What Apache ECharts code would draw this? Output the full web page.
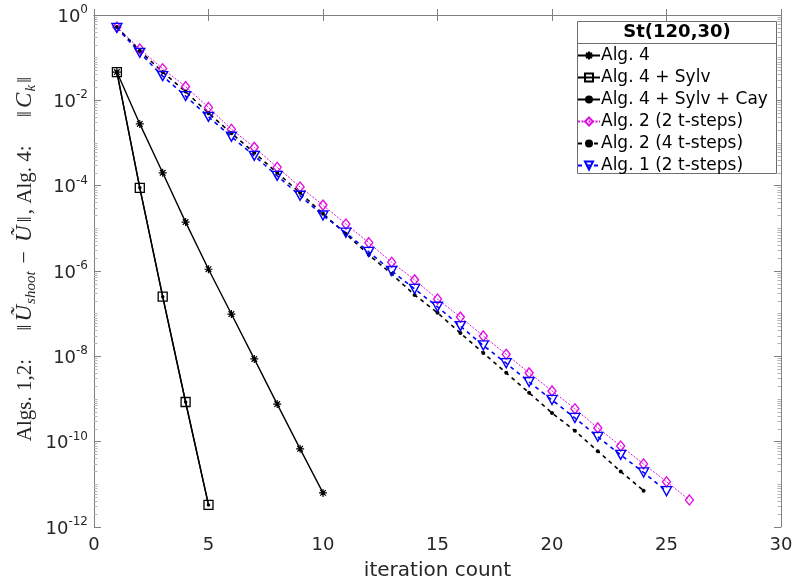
<!DOCTYPE html>
<html>
<head>
<meta charset="utf-8">
<script src="https://cdn.jsdelivr.net/npm/echarts@6/dist/echarts.min.js"></script>
<style>
  html, body { margin: 0; padding: 0; background: #fff; }
  #chart { width: 793px; height: 584px; }
</style>
</head>
<body>
<div id="chart"></div>
<script>
// iteration numbers (x)
const iters = [1, 2, 3, 4, 5, 6, 7, 8, 9, 10, 11, 12, 13, 14, 15, 16, 17, 18, 19, 20, 21, 22, 23, 24, 25, 26];

// residual norms
const alg4 = [4.6e-2, 2.8e-3, 2.0e-4, 1.4e-5, 1.1e-6, 9.8e-8, 8.7e-9, 7.6e-10, 6.8e-11, 6.3e-12];
const alg4Sylv = [4.6e-2, 8.9e-5, 2.5e-7, 8.5e-10, 3.3e-12];
const alg4SylvCay = [4.6e-2, 8.9e-5, 2.5e-7, 8.5e-10, 3.3e-12];
const alg2Two = [0.52, 0.16, 5.5e-2, 2.1e-2, 6.8e-3, 2.1e-3, 7.9e-4, 2.7e-4, 9.3e-5, 3.5e-5,
  1.26e-5, 4.6e-6, 1.6e-6, 6.2e-7, 2.2e-7, 8.3e-8, 3.0e-8, 1.12e-8, 4.1e-9, 1.55e-9,
  5.9e-10, 2.1e-10, 7.9e-11, 3.0e-11, 1.15e-11, 4.3e-12];
const alg2Four = [0.52, 0.145, 4.6e-2, 1.6e-2, 5.0e-3, 1.7e-3, 5.9e-4, 2.0e-4, 6.8e-5, 2.2e-5,
  7.4e-6, 2.4e-6, 8.5e-7, 2.75e-7, 1.05e-7, 3.5e-8, 1.2e-8, 4.1e-9, 1.4e-9, 4.7e-10,
  1.8e-10, 6.0e-11, 2.0e-11, 7.1e-12];
const alg1Two = [0.50, 0.13, 3.7e-2, 1.26e-2, 4.1e-3, 1.4e-3, 5.0e-4, 1.7e-4, 5.8e-5, 2.0e-5,
  7.9e-6, 2.8e-6, 1.0e-6, 3.8e-7, 1.45e-7, 5.1e-8, 1.8e-8, 6.9e-9, 2.5e-9, 9.5e-10,
  3.6e-10, 1.3e-10, 4.9e-11, 1.9e-11, 6.9e-12];

const seriesNames = ['Alg. 4', 'Alg. 4 + Sylv', 'Alg. 4 + Sylv + Cay',
  'Alg. 2 (2 t-steps)', 'Alg. 2 (4 t-steps)', 'Alg. 1 (2 t-steps)'];

// y axis: exponent ticks
const yMinor = [];
for (let n = -12; n < 0; n++) {
  if (n % 2 !== 0) yMinor.push(n);
  for (let k = 2; k <= 9; k++) yMinor.push(n + Math.log10(k));
}

const toPts = (vals) => vals.map((v, i) => [iters[i], Math.log10(v)]);

const AXIS = '#808080';
const TXT = '#262626';
const MAG = '#e010e0';
const BLUE = '#0000ff';
const ASTER = 'path://M5,0L5,10M0,5L10,5M1.5,1.5L8.5,8.5M1.5,8.5L8.5,1.5';

const chart = echarts.init(document.getElementById('chart'), null, { renderer: 'canvas' });

const yBase = {
  type: 'value', min: -12, max: 0, interval: 2,
  splitLine: { show: false },
  axisLine: { show: true, lineStyle: { color: AXIS, width: 1 } }
};

const serif = 'Liberation Serif';

chart.setOption({
  animation: false,
  backgroundColor: '#fff',
  textStyle: { fontFamily: 'DejaVu Sans' },
  grid: { left: 94, right: 12, top: 15, bottom: 57, containLabel: false, outerBoundsMode: 'none' },
  xAxis: [{
    type: 'value', min: 0, max: 30, interval: 5,
    name: 'iteration count', nameLocation: 'middle', nameGap: 34,
    nameTextStyle: { fontSize: 20, color: TXT, fontFamily: 'DejaVu Sans' },
    axisLine: { lineStyle: { color: AXIS } },
    axisTick: { inside: true, length: 6, lineStyle: { color: AXIS } },
    axisLabel: { fontSize: 18, color: TXT, margin: 9, fontFamily: 'DejaVu Sans' },
    splitLine: { show: false }
  }, {
    type: 'value', min: 0, max: 30, interval: 5, position: 'top',
    axisLine: { lineStyle: { color: AXIS } },
    axisTick: { inside: true, length: 6, lineStyle: { color: AXIS } },
    axisLabel: { show: false },
    splitLine: { show: false }
  }],
  yAxis: [
    Object.assign({}, yBase, {
      position: 'left',
      axisTick: { inside: true, length: 7, lineStyle: { color: AXIS } },
      axisLabel: {
        margin: 6,
        formatter: (v) => '{b|10}{s|' + v + '}',
        rich: {
          b: { fontSize: 18, color: TXT, fontFamily: 'DejaVu Sans', lineHeight: 22, verticalAlign: 'bottom' },
          s: { fontSize: 12, color: TXT, fontFamily: 'DejaVu Sans', lineHeight: 12, verticalAlign: 'top' }
        }
      }
    }),
    Object.assign({}, yBase, {
      position: 'left', axisLine: { show: false },
      axisTick: { inside: true, length: 3.5, customValues: yMinor, lineStyle: { color: '#b4b4b4' } },
      axisLabel: { show: false }
    }),
    Object.assign({}, yBase, {
      position: 'right',
      axisTick: { inside: true, length: 7, lineStyle: { color: AXIS } },
      axisLabel: { show: false }
    }),
    Object.assign({}, yBase, {
      position: 'right', axisLine: { show: false },
      axisTick: { inside: true, length: 3.5, customValues: yMinor, lineStyle: { color: '#b4b4b4' } },
      axisLabel: { show: false }
    })
  ],
  legend: {
    orient: 'vertical', left: 577, top: 47, padding: 0,
    itemWidth: 22, itemHeight: 10, itemGap: 5,
    textStyle: { fontSize: 17, color: '#000', lineHeight: 16, fontFamily: 'DejaVu Sans', padding: [0, 0, 0, -4] },
    data: seriesNames
  },
  graphic: [
    { type: 'rect', z: 3, shape: { x: 577.5, y: 21.5, width: 199, height: 152 },
      style: { fill: '#fff', stroke: '#6e6e6e', lineWidth: 1 } },
    { type: 'line', z: 3, shape: { x1: 577.5, y1: 43.5, x2: 776.5, y2: 43.5 },
      style: { stroke: '#6e6e6e', lineWidth: 1 } },
    { type: 'text', z: 5, x: 677, y: 32,
      style: { text: 'St(120,30)', font: 'bold 18px "DejaVu Sans"', fill: '#000',
        textAlign: 'center', textVerticalAlign: 'middle' } },
    { type: 'text', z: 5, x: 25, y: 258, rotation: Math.PI / 2,
      style: {
        text: '{r|Algs. 1,2:}{g| }{b|‖}{i|Ũ}{s|shoot}{m|−}{i|Ũ}{b|‖}{r|, Alg. 4:}{g| }{b|‖}{i|C}{s|k}{b|‖}',
        textAlign: 'center', textVerticalAlign: 'middle', fill: TXT,
        rich: {
          r: { fontSize: 21, fontFamily: serif, fill: TXT, lineHeight: 28, verticalAlign: 'middle' },
          b: { fontSize: 22, fontFamily: serif, fill: TXT, lineHeight: 28, verticalAlign: 'middle', padding: [0, 2, 0, 2] },
          g: { fontSize: 21, fontFamily: serif, fill: TXT, lineHeight: 28, verticalAlign: 'middle', padding: [0, 12, 0, 9] },
          m: { fontSize: 22, fontFamily: serif, fill: TXT, lineHeight: 28, verticalAlign: 'middle', padding: [0, 8, 0, 8] },
          i: { fontSize: 23, fontFamily: serif, fontStyle: 'italic', fill: TXT, lineHeight: 28, verticalAlign: 'middle', padding: [0, 1, 0, 1] },
          s: { fontSize: 15, fontFamily: serif, fontStyle: 'italic', fill: TXT, lineHeight: 14, verticalAlign: 'bottom' }
        }
      } }
  ],
  series: [
    {
      name: seriesNames[0], type: 'line', data: toPts(alg4),
      symbol: ASTER, symbolSize: 8,
      lineStyle: { color: '#000', width: 1.4 },
      itemStyle: { color: '#000', borderColor: '#000', borderWidth: 1.2 }
    },
    {
      name: seriesNames[1], type: 'line', data: toPts(alg4Sylv),
      symbol: 'rect', symbolSize: 9,
      lineStyle: { color: '#000', width: 1.4 },
      itemStyle: { color: 'transparent', borderColor: '#000', borderWidth: 1.3 }
    },
    {
      name: seriesNames[2], type: 'line', data: toPts(alg4SylvCay),
      symbol: 'circle', symbolSize: 3.5,
      lineStyle: { color: '#000', width: 1.4 },
      itemStyle: { color: '#000' }
    },
    {
      name: seriesNames[3], type: 'line', data: toPts(alg2Two),
      symbol: 'diamond', symbolSize: [8, 10],
      lineStyle: { color: MAG, width: 1, type: [2, 1.5] },
      itemStyle: { color: 'transparent', borderColor: MAG, borderWidth: 1.4 }
    },
    {
      name: seriesNames[4], type: 'line', data: toPts(alg2Four),
      symbol: 'circle', symbolSize: 4,
      lineStyle: { color: '#000', width: 1.6, type: [4, 4] },
      itemStyle: { color: '#000' }
    },
    {
      name: seriesNames[5], type: 'line', data: toPts(alg1Two),
      symbol: 'triangle', symbolRotate: 180, symbolSize: [10, 9],
      lineStyle: { color: BLUE, width: 1.6, type: [4, 4] },
      itemStyle: { color: 'transparent', borderColor: BLUE, borderWidth: 1.4 }
    }
  ]
});
</script>
</body>
</html>
